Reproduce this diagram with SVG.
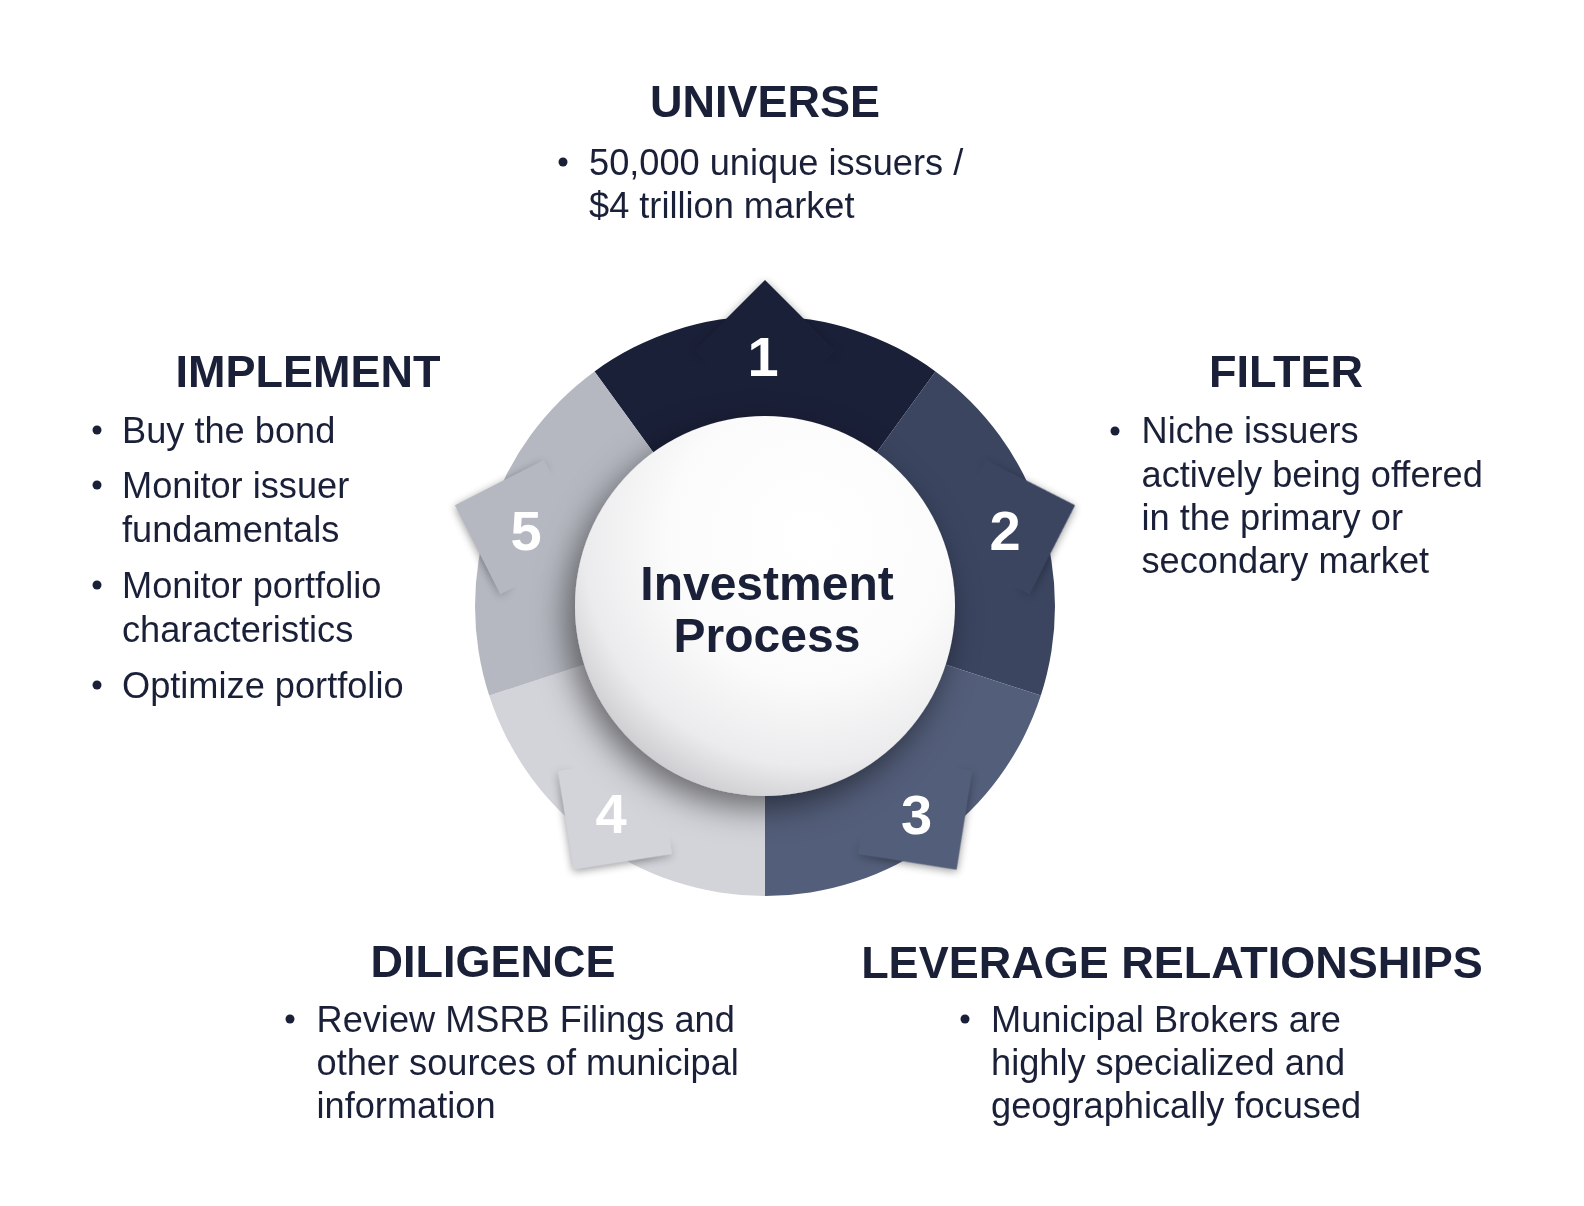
<svg xmlns="http://www.w3.org/2000/svg" width="1584" height="1206" viewBox="0 0 1584 1206">
<style>
.h{font-family:"Liberation Sans",Arial,sans-serif;font-weight:700;font-size:45px;fill:#1b2039;text-anchor:middle}
.b{font-family:"Liberation Sans",Arial,sans-serif;font-size:36.2px;fill:#1b2039}
.dot{fill:#1b2039}
.num{font-family:"Liberation Sans",Arial,sans-serif;font-weight:700;font-size:56px;fill:#ffffff;text-anchor:middle}
.ctr{font-family:"Liberation Sans",Arial,sans-serif;font-weight:700;font-size:48px;fill:#1b2039;text-anchor:middle}
</style>
<defs>
<filter id="tabShadow" x="-30%" y="-30%" width="160%" height="160%">
<feGaussianBlur in="SourceAlpha" stdDeviation="4"/>
<feOffset dx="0" dy="2" result="o"/>
<feComponentTransfer><feFuncA type="linear" slope="0.4"/></feComponentTransfer>
</filter>
<filter id="circleShadow" x="-30%" y="-30%" width="160%" height="160%">
<feDropShadow dx="-8" dy="12" stdDeviation="16" flood-color="#000" flood-opacity="0.5"/>
</filter>
<radialGradient id="circleGrad" cx="0.62" cy="0.32" r="0.75">
<stop offset="0" stop-color="#ffffff"/>
<stop offset="0.5" stop-color="#fbfbfb"/>
<stop offset="0.8" stop-color="#ebebed"/>
<stop offset="1" stop-color="#c6c6ca"/>
</radialGradient>
<radialGradient id="maskGrad" gradientUnits="userSpaceOnUse" cx="765" cy="606" r="360">
<stop offset="0" stop-color="#000"/>
<stop offset="0.69" stop-color="#000"/>
<stop offset="0.78" stop-color="#fff"/>
<stop offset="1" stop-color="#fff"/>
</radialGradient>
<mask id="outerMask" maskUnits="userSpaceOnUse" x="0" y="0" width="1584" height="1206">
<rect x="0" y="0" width="1584" height="1206" fill="url(#maskGrad)"/>
</mask>
<path id="tab" d="M765,280 L835.7,350.7 L765,421.4 L694.3,350.7 Z"/>
</defs>
<rect width="1584" height="1206" fill="#ffffff"/>

<g id="wheel">
<g id="ring">
<path id="seg1" fill="#1b2039" d="M594.54,371.39 A290,290 0 0 1 935.46,371.39 L870.80,460.38 A180,180 0 0 0 659.20,460.38 Z"/>
<path id="seg2" fill="#3b4560" d="M935.46,371.39 A290,290 0 0 1 1040.81,695.61 L936.20,661.62 A180,180 0 0 0 870.80,460.38 Z"/>
<path id="seg3" fill="#535e7a" d="M1040.81,695.61 A290,290 0 0 1 765,896 L765,786 A180,180 0 0 0 936.20,661.62 Z"/>
<path id="seg4" fill="#d3d4da" d="M765,896 A290,290 0 0 1 489.19,695.61 L593.80,661.62 A180,180 0 0 0 765,786 Z"/>
<path id="seg5" fill="#b5b8c0" d="M489.19,695.61 A290,290 0 0 1 594.54,371.39 L659.20,460.38 A180,180 0 0 0 593.80,661.62 Z"/>
</g>
<g id="tab-shadows" mask="url(#outerMask)">
<g filter="url(#tabShadow)">
<use href="#tab" fill="#000"/>
<use href="#tab" fill="#000" transform="rotate(72 765 606)"/>
<use href="#tab" fill="#000" transform="rotate(144 765 606)"/>
<use href="#tab" fill="#000" transform="rotate(216 765 606)"/>
<use href="#tab" fill="#000" transform="rotate(288 765 606)"/>
</g>
</g>
<g id="tabs">
<use href="#tab" fill="#1b2039"/>
<use href="#tab" fill="#3b4560" transform="rotate(72 765 606)"/>
<use href="#tab" fill="#535e7a" transform="rotate(144 765 606)"/>
<use href="#tab" fill="#d3d4da" transform="rotate(216 765 606)"/>
<use href="#tab" fill="#b5b8c0" transform="rotate(288 765 606)"/>
</g>
<g id="numbers">
<text class="num" x="763" y="376">1</text>
<text class="num" x="1005" y="550">2</text>
<text class="num" x="916.5" y="834">3</text>
<text class="num" x="611" y="833">4</text>
<text class="num" x="526" y="550">5</text>
</g>
<g id="center">
<circle cx="765" cy="606" r="190" fill="url(#circleGrad)" filter="url(#circleShadow)"/>
<text class="ctr" x="767" y="600">Investment</text>
<text class="ctr" x="767" y="652">Process</text>
</g>
</g>

<g id="connectors"></g>

<g id="universe">
<text class="h" x="765" y="117">UNIVERSE</text>
<circle class="dot" cx="563" cy="162" r="4.5"/>
<text class="b" x="589" y="175">50,000 unique issuers /</text>
<text class="b" x="589" y="218">$4 trillion market</text>
</g>

<g id="filter">
<text class="h" x="1286" y="387">FILTER</text>
<circle class="dot" cx="1115" cy="431" r="4.5"/>
<text class="b" x="1141.5" y="443.3">Niche issuers</text>
<text class="b" x="1141.5" y="486.7">actively being offered</text>
<text class="b" x="1141.5" y="530">in the primary or</text>
<text class="b" x="1141.5" y="573.3">secondary market</text>
</g>

<g id="leverage">
<text class="h" x="1172" y="978">LEVERAGE RELATIONSHIPS</text>
<circle class="dot" cx="965" cy="1019" r="4.5"/>
<text class="b" x="991" y="1031.7">Municipal Brokers are</text>
<text class="b" x="991" y="1075">highly specialized and</text>
<text class="b" x="991" y="1118.3">geographically focused</text>
</g>

<g id="diligence">
<text class="h" x="493" y="977">DILIGENCE</text>
<circle class="dot" cx="290" cy="1019" r="4.5"/>
<text class="b" x="316.5" y="1031.7">Review MSRB Filings and</text>
<text class="b" x="316.5" y="1075">other sources of municipal</text>
<text class="b" x="316.5" y="1118.3">information</text>
</g>

<g id="implement">
<text class="h" x="308" y="387">IMPLEMENT</text>
<circle class="dot" cx="97" cy="430" r="4.5"/>
<text class="b" x="122" y="443">Buy the bond</text>
<circle class="dot" cx="97" cy="485" r="4.5"/>
<text class="b" x="122" y="498">Monitor issuer</text>
<text class="b" x="122" y="542">fundamentals</text>
<circle class="dot" cx="97" cy="585" r="4.5"/>
<text class="b" x="122" y="598">Monitor portfolio</text>
<text class="b" x="122" y="641.5">characteristics</text>
<circle class="dot" cx="97" cy="685" r="4.5"/>
<text class="b" x="122" y="698">Optimize portfolio</text>
</g>
</svg>
